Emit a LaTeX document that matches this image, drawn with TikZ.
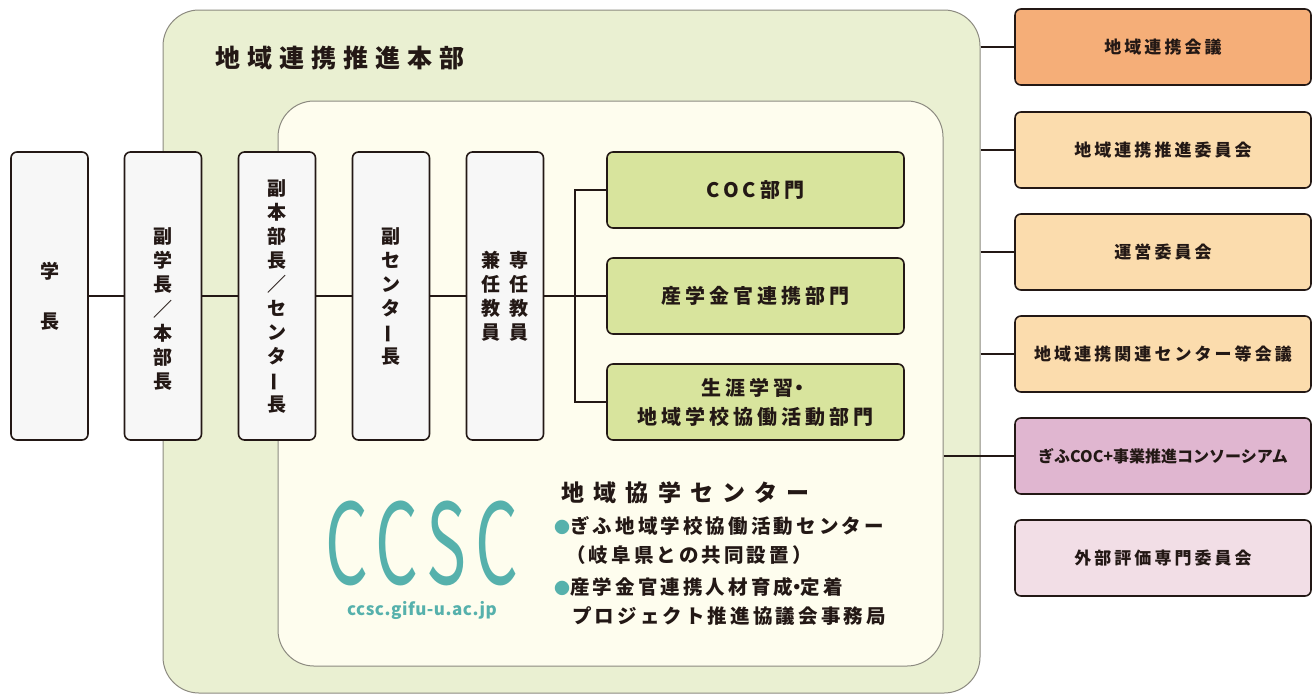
\documentclass[tikz,border=0pt]{standalone}
\usepackage{fontspec}
\setmainfont{Noto Sans CJK JP}
\usetikzlibrary{positioning}

\definecolor{ink}{HTML}{231815}
\definecolor{frame}{HTML}{8C8A80}
\definecolor{hqfill}{HTML}{EAF0D2}
\definecolor{centerfill}{HTML}{FEFDEE}
\definecolor{postfill}{HTML}{F7F7F7}
\definecolor{deptfill}{HTML}{D8E49D}
\definecolor{kaigifill}{HTML}{F5AE78}
\definecolor{iinfill}{HTML}{FBDCAD}
\definecolor{consfill}{HTML}{E0B6D0}
\definecolor{evalfill}{HTML}{F2DEE6}
\definecolor{logoteal}{HTML}{56B1AC}

\newcommand{\vchoon}{\rotatebox[origin=c]{90}{ー}}
\newcommand{\tealdot}{{\color{logoteal}\fontsize{16}{16}\selectfont●}}

\begin{document}
\begin{tikzpicture}[
x=1pt, y=-1pt,
area/.style={
	draw=frame,
	line width=1pt,
	rounded corners=36pt,
	inner sep=0pt
},
post/.style={
	draw=ink,
	line width=1.6pt,
	rounded corners=6pt,
	fill=postfill,
	minimum width=77pt,
	minimum height=288pt,
	inner sep=0pt,
	align=center,
	font=\bfseries\fontsize{19}{24}\selectfont
},
vlabel/.style={
	inner sep=0pt,
	align=center,
	font=\bfseries\fontsize{19}{24.3}\selectfont
},
dept/.style={
	draw=ink,
	line width=1.6pt,
	rounded corners=6pt,
	fill=deptfill,
	minimum width=297pt,
	minimum height=76pt,
	align=center,
	font=\bfseries\fontsize{20}{29}\selectfont\addfontfeature{LetterSpace=20}
},
side/.style={
	draw=ink,
	line width=1.6pt,
	rounded corners=6pt,
	minimum width=296pt,
	minimum height=76pt,
	align=center,
	font=\bfseries\fontsize{17}{20}\selectfont\addfontfeature{LetterSpace=18}
},
item/.style={
	anchor=north west,
	align=left,
	inner sep=0pt,
	font=\bfseries\fontsize{19.5}{29}\selectfont\addfontfeature{LetterSpace=16}
},
link/.style={
	draw=ink,
	line width=1.5pt
},
every node/.style={text=ink}
]
\useasboundingbox (0,0) rectangle (1313,694);

% Areas
\node [area, fill=hqfill, minimum width=817pt, minimum height=683pt] (hq) at (571.5,351.5) {};
\node [area, fill=centerfill, minimum width=665pt, minimum height=565pt] (ccsc) at (610.5,383.5) {};
\node [anchor=west, font=\bfseries\fontsize{25}{25}\selectfont\addfontfeature{LetterSpace=28}] (hqtitle) at (212,58) {地域連携推進本部};

% Posts
\node [post] (gakucho) at (49.5,296) {学\\[26pt]長};
\node [post] (fukugakucho) at (163,296) {};
\node [vlabel] (fukugakuchotext) at ([yshift=-13pt]fukugakucho.center) {副\\学\\長\\／\\本\\部\\長};
\node [post] (fukuhonbucho) at (277,296) {副\\本\\部\\長\\／\\セ\\ン\\タ\\\vchoon\\長};
\node [post] (fukucenter) at (391,296) {副\\セ\\ン\\タ\\\vchoon\\長};
\node [post] (kyoin) at (505,296) {兼\hspace{9pt}専\\任\hspace{9pt}任\\教\hspace{9pt}教\\員\hspace{9pt}員};

% Departments
\node [dept] (coc) at (755.5,190) {COC部門};
\node [dept] (sangaku) at (755.5,296) {産学金官連携部門};
\node [dept] (shogai) at (755.5,402) {生涯学習\hspace{-4pt}・\\地域学校協働活動部門};

% Center
\node [anchor=west, font=\bfseries\fontsize{23}{23}\selectfont\addfontfeature{LetterSpace=40}] (ctitle) at (558,493) {地域協学センター};
\node [item] (item1) at (554,516)
	{\tealdot ぎふ地域学校協働活動センター\\\hspace{12pt}（岐阜県との共同設置）};
\node [item] (item2) at (554,577)
	{\tealdot 産学金官連携人材育成\hspace{-6pt}・\hspace{-6pt}定着\\\hspace{18pt}プロジェクト推進協議会事務局};
\node [xscale=0.6, text=logoteal, inner sep=0pt, text height=80pt, text depth=0pt, font=\fontsize{112}{112}\selectfont\addfontfeature{LetterSpace=14}] (logo) at (422,544) {CCSC};
\node [text=logoteal, inner sep=0pt, font=\bfseries\fontsize{17}{17}\selectfont\addfontfeature{LetterSpace=3}] (url) at (422,610) {ccsc.gifu-u.ac.jp};

% Committees
\node [side, fill=kaigifill] (kaigi) at (1163,47) {地域連携会議};
\node [side, fill=iinfill] (suishin) at (1163,150) {地域連携推進委員会};
\node [side, fill=iinfill] (unei) at (1163,252) {運営委員会};
\node [side, fill=iinfill] (kanren) at (1163,354) {地域連携関連センター等会議};
\node [side, fill=consfill, font=\bfseries\fontsize{16}{20}\selectfont] (consort) at (1163,456) {ぎふCOC+事業推進コンソーシアム};
\node [side, fill=evalfill] (hyoka) at (1163,558) {外部評価専門委員会};

% Links
\coordinate (fork) at (575,296);
\draw [link] (gakucho) -- (fukugakucho);
\draw [link] (fukugakucho) -- (fukuhonbucho);
\draw [link] (fukuhonbucho) -- (fukucenter);
\draw [link] (fukucenter) -- (kyoin);
\draw [link] (kyoin) -- (fork) -- (sangaku);
\draw [link] (coc.west) -| (fork) |- (shogai.west);
\foreach \c in {kaigi, suishin, unei, kanren}
	\draw [link] (hq.east |- \c.west) -- (\c.west);
\draw [link] (ccsc.east |- consort.west) -- (consort.west);

\end{tikzpicture}
\end{document}
